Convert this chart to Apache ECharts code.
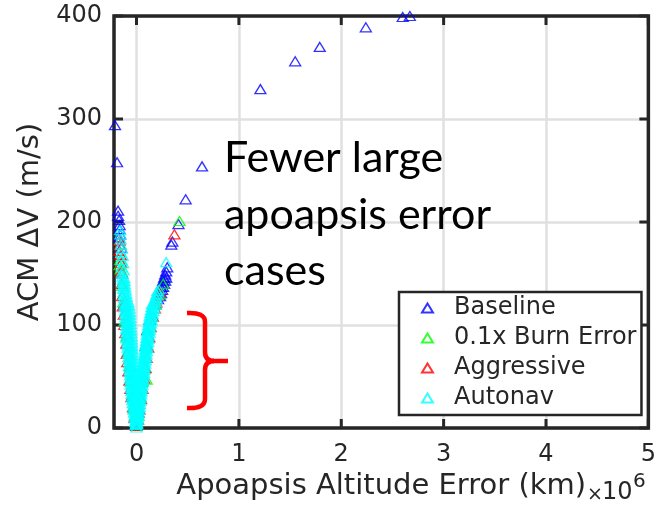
<!DOCTYPE html>
<html>
<head>
<meta charset="utf-8">
<script src="https://cdn.jsdelivr.net/npm/echarts@6/dist/echarts.min.js"></script>
<style>
  html, body { margin: 0; padding: 0; background: #ffffff; }
  #chart { width: 659px; height: 507px; }
</style>
</head>
<body>
<div id="chart"></div>
<script>
// Apoapsis altitude error (x 10^6 km) vs ACM delta-V (m/s) for four navigation strategies.
const seriesNames = ['Baseline', '0.1x Burn Error', 'Aggressive', 'Autonav'];
const seriesColors = ['#0000ff', '#00ff00', '#ff0000', '#00ffff'];

const xTickValues = [0, 1, 2, 3, 4, 5];
const yTickValues = [0, 100, 200, 300, 400];

const baseline = [
  [2.67, 400], [2.60, 399], [2.24, 389], [1.79, 370], [1.55, 356], [1.21, 329],
  [0.64, 254], [0.48, 222], [0.41, 198], [0.35, 181], [0.34, 178],
  [-0.21, 294], [-0.19, 258],
  [-0.18, 211], [-0.18, 206], [-0.17, 202], [-0.165, 197], [-0.165, 193], [-0.16, 188], [-0.17, 185],
  [0.30, 156], [0.29, 152], [0.28, 149], [0.29, 146], [0.27, 146], [0.28, 143], [0.26, 143],
  [0.27, 140], [0.25, 140], [0.26, 137], [0.24, 137], [0.25, 134], [0.23, 134], [0.24, 131],
  [0.22, 131], [0.23, 128],
  [-0.15, 175], [-0.14, 150], [-0.12, 120], [-0.09, 90], [-0.06, 60], [-0.03, 30], [0.0, 3],
  [0.02, 15], [0.05, 45], [0.09, 80], [0.105, 95], [0.13, 105], [0.18, 120], [0.21, 125]
];

const burnError = [
  [0.42, 201], [-0.16, 163], [-0.165, 158], [-0.155, 154],
  [-0.14, 138], [-0.13, 122], [-0.115, 104], [-0.10, 88], [-0.085, 74], [-0.07, 60],
  [-0.055, 45], [-0.04, 32], [-0.025, 18], [0.0, 2],
  [0.02, 12], [0.04, 30], [0.06, 46], [0.10, 47], [0.08, 58], [0.10, 80], [0.11, 95],
  [0.15, 108], [0.19, 120], [0.23, 130], [0.26, 140]
];

const aggressive = [
  [0.37, 188], [0.225, 132],
  [-0.165, 182], [-0.16, 178], [-0.165, 172], [-0.155, 168], [-0.15, 160], [-0.15, 152],
  [-0.145, 140], [-0.14, 128], [-0.135, 118], [-0.125, 110], [-0.12, 100], [-0.11, 92],
  [-0.10, 82], [-0.095, 72], [-0.09, 64], [-0.08, 55], [-0.07, 46], [-0.06, 38],
  [-0.05, 30], [-0.035, 20], [-0.02, 10], [-0.005, 2],
  [0.21, 128], [0.195, 122], [0.18, 116], [0.16, 108], [0.14, 98], [0.125, 88],
  [0.115, 78], [0.10, 68], [0.09, 58], [0.075, 48], [0.06, 38], [0.045, 28],
  [0.03, 18], [0.015, 8]
];

// Autonav cases on the negative-error arm of the V
const autonavLeft = [
  [0.0, 0.5],
  [-0.008, 3], [-0.004, 4], [0.0, 5], [-0.012, 6], [-0.006, 7], [-0.001, 8],
  [-0.016, 9], [-0.009, 10], [-0.002, 11], [-0.02, 12], [-0.012, 13], [-0.004, 14],
  [-0.025, 15], [-0.015, 16], [-0.005, 17], [-0.03, 18], [-0.018, 19], [-0.007, 20],
  [-0.034, 21], [-0.022, 22], [-0.01, 23], [-0.038, 24], [-0.025, 25], [-0.012, 26],
  [-0.042, 27], [-0.028, 28], [-0.014, 29], [-0.045, 30], [-0.031, 31], [-0.016, 32],
  [-0.048, 33], [-0.034, 34], [-0.018, 35], [-0.051, 36], [-0.036, 37], [-0.02, 38],
  [-0.054, 39], [-0.04, 40], [-0.022, 41], [-0.057, 42], [-0.042, 43], [-0.024, 44],
  [-0.06, 45], [-0.045, 46], [-0.026, 47], [-0.062, 48], [-0.047, 49], [-0.028, 50],
  [-0.064, 51], [-0.05, 52], [-0.03, 53], [-0.066, 54], [-0.052, 55], [-0.032, 56],
  [-0.068, 57], [-0.054, 58], [-0.034, 59], [-0.071, 60], [-0.056, 61], [-0.035, 62],
  [-0.073, 63], [-0.058, 64], [-0.036, 65], [-0.076, 66], [-0.06, 67], [-0.037, 68],
  [-0.079, 69], [-0.062, 70], [-0.038, 71], [-0.082, 72], [-0.064, 73], [-0.039, 74],
  [-0.085, 75], [-0.066, 76], [-0.04, 77], [-0.088, 78], [-0.068, 79], [-0.042, 80],
  [-0.09, 81], [-0.07, 82], [-0.044, 83], [-0.092, 84], [-0.072, 85], [-0.046, 86],
  [-0.094, 87], [-0.075, 88], [-0.048, 89], [-0.096, 90], [-0.078, 91], [-0.05, 92],
  [-0.098, 93], [-0.08, 94], [-0.052, 95], [-0.1, 96], [-0.082, 97], [-0.055, 98],
  [-0.102, 99], [-0.084, 100], [-0.057, 101], [-0.104, 102], [-0.086, 103], [-0.059, 104],
  [-0.106, 105], [-0.088, 106], [-0.061, 107], [-0.108, 108], [-0.09, 109], [-0.063, 110],
  [-0.11, 111], [-0.092, 112], [-0.065, 113], [-0.112, 114], [-0.094, 115], [-0.068, 116],
  [-0.114, 117], [-0.097, 118], [-0.072, 119], [-0.117, 120], [-0.1, 121], [-0.078, 122],
  [-0.12, 123], [-0.09, 124.5], [-0.122, 126], [-0.095, 127.5], [-0.125, 129], [-0.1, 130.5],
  [-0.127, 132], [-0.105, 133.5], [-0.13, 135], [-0.11, 136.5], [-0.132, 138], [-0.112, 139.5],
  [-0.134, 141], [-0.115, 142.5], [-0.136, 144], [-0.118, 145.5], [-0.138, 147],
  [-0.14, 150], [-0.125, 153], [-0.143, 156], [-0.13, 160], [-0.146, 163], [-0.135, 167],
  [-0.15, 170], [-0.145, 174], [-0.152, 178], [-0.155, 183], [-0.158, 188], [-0.16, 192]
];

// Autonav cases on the positive-error arm of the V
const autonavRight = [
  [0.004, 3.5], [0.008, 4.5], [0.0, 6.5], [0.006, 7.5], [0.012, 8.5],
  [0.003, 9.5], [0.01, 10.5], [0.016, 11.5], [0.005, 12.5], [0.013, 13.5], [0.02, 14.5],
  [0.007, 15.5], [0.016, 16.5], [0.025, 17.5], [0.009, 18.5], [0.02, 19.5], [0.03, 20.5],
  [0.011, 21.5], [0.024, 22.5], [0.034, 23.5], [0.014, 24.5], [0.028, 25.5], [0.038, 26.5],
  [0.017, 27.5], [0.031, 28.5], [0.042, 29.5], [0.02, 30.5], [0.034, 31.5], [0.046, 32.5],
  [0.024, 33.5], [0.038, 34.5], [0.05, 35.5], [0.028, 36.5], [0.042, 37.5], [0.054, 38.5],
  [0.032, 39.5], [0.046, 40.5], [0.058, 41.5], [0.036, 42.5], [0.05, 43.5], [0.062, 44.5],
  [0.04, 45.5], [0.054, 46.5], [0.066, 47.5], [0.044, 48.5], [0.057, 49.5], [0.07, 50.5],
  [0.048, 51.5], [0.061, 52.5], [0.074, 53.5], [0.052, 54.5], [0.065, 55.5], [0.078, 56.5],
  [0.056, 57.5], [0.069, 58.5], [0.082, 59.5], [0.06, 60.5], [0.072, 61.5], [0.086, 62.5],
  [0.064, 63.5], [0.076, 64.5], [0.09, 65.5], [0.068, 66.5], [0.08, 67.5], [0.094, 68.5],
  [0.072, 69.5], [0.083, 70.5], [0.098, 71.5], [0.076, 72.5], [0.087, 73.5], [0.102, 74.5],
  [0.08, 75.5], [0.091, 76.5], [0.106, 77.5], [0.084, 78.5], [0.095, 79.5], [0.11, 80.5],
  [0.088, 81.5], [0.099, 82.5], [0.114, 83.5], [0.092, 84.5], [0.103, 85.5], [0.118, 86.5],
  [0.096, 87.5], [0.107, 88.5], [0.122, 89.5], [0.1, 90.5], [0.111, 91.5], [0.127, 92.5],
  [0.104, 93.5], [0.116, 94.5], [0.132, 95.5], [0.108, 96.5], [0.12, 97.5], [0.137, 98.5],
  [0.112, 99.5], [0.125, 100.5], [0.142, 101.5], [0.117, 102.5], [0.13, 103.5], [0.147, 104.5],
  [0.122, 105.5], [0.135, 106.5], [0.153, 107.5], [0.128, 108.5], [0.141, 109.5], [0.159, 110.5],
  [0.134, 111.5], [0.147, 112.5], [0.166, 113.5], [0.14, 114.5], [0.154, 115.5], [0.173, 116.5],
  [0.146, 117.5], [0.16, 118.5], [0.18, 119.5], [0.152, 120.5], [0.168, 121.5], [0.188, 122.5],
  [0.176, 124], [0.196, 125.5], [0.185, 127], [0.204, 128.5], [0.194, 130], [0.212, 131.5],
  [0.203, 133], [0.22, 134.5], [0.29, 161]
];

const autonav = autonavLeft.concat(autonavRight);
const seriesData = [baseline, burnError, aggressive, autonav];

const annotationLines = ['Fewer large', 'apoapsis error', 'cases'];

const X_MIN = -0.22, X_MAX = 5, Y_MIN = 0, Y_MAX = 400;
const INK = '#262626';
const GRID_GRAY = '#e0e0e0';
const TICK_FONT = 'DejaVu Sans';
const BRACE_RED = '#ff0000';
const TICK_LEN = 9;

const chart = echarts.init(document.getElementById('chart'), null, { renderer: 'canvas' });

// Curly brace pieces: curves and straight runs
const braceStyle = { fill: 'none', stroke: BRACE_RED, lineWidth: 4.5 };
const braceParts = [
  { type: 'bezierCurve', shape: { x1: 187, y1: 313, cpx1: 205, cpy1: 312, x2: 205, y2: 322 } },
  { type: 'line', shape: { x1: 205, y1: 322, x2: 205, y2: 352 } },
  { type: 'bezierCurve', shape: { x1: 205, y1: 352, cpx1: 205, cpy1: 361, x2: 214, y2: 361 } },
  { type: 'line', shape: { x1: 213, y1: 361, x2: 228, y2: 361 } },
  { type: 'bezierCurve', shape: { x1: 214, y1: 361, cpx1: 205, cpy1: 361, x2: 205, y2: 370 } },
  { type: 'line', shape: { x1: 205, y1: 370, x2: 205, y2: 399 } },
  { type: 'bezierCurve', shape: { x1: 205, y1: 399, cpx1: 205, cpy1: 409, x2: 187, y2: 408 } }
].map((p, i) => Object.assign({ id: 'brace' + i, z: 5, silent: true, style: braceStyle }, p));

const option = {
  animation: false,
  backgroundColor: '#ffffff',
  grid: { left: 114, right: 6, top: 16, bottom: 79, containLabel: false },
  xAxis: {
    type: 'value', min: X_MIN, max: X_MAX,
    splitNumber: 5, minInterval: 1, maxInterval: 1,
    axisLine: { show: false, onZero: false },
    axisTick: { show: false },
    axisLabel: {
      showMinLabel: false, fontFamily: TICK_FONT, fontSize: 24, color: INK, margin: 15,
      formatter: v => (xTickValues.indexOf(v) >= 0 ? String(v) : '')
    },
    splitLine: { show: true, lineStyle: { color: GRID_GRAY, width: 2.5 } },
    name: 'Apoapsis Altitude Error (km)',
    nameLocation: 'middle', nameGap: 42,
    nameTextStyle: { fontFamily: TICK_FONT, fontSize: 29, color: INK }
  },
  yAxis: {
    type: 'value', min: Y_MIN, max: Y_MAX, interval: 100,
    axisLine: { show: false, onZero: false },
    axisTick: { show: false },
    axisLabel: {
      fontFamily: TICK_FONT, fontSize: 24, color: INK, margin: 12,
      formatter: v => (yTickValues.indexOf(v) >= 0 ? String(v) : '')
    },
    splitLine: { show: true, lineStyle: { color: GRID_GRAY, width: 2.5 } },
    name: 'ACM \u0394V (m/s)',
    nameLocation: 'middle', nameGap: 68,
    nameTextStyle: { fontFamily: TICK_FONT, fontSize: 29, color: INK }
  },
  legend: {
    orient: 'vertical', left: 399, top: 292,
    padding: [4, 5, 5, 22],
    itemWidth: 11, itemHeight: 9, itemGap: 6,
    backgroundColor: '#ffffff', borderColor: INK, borderWidth: 2.5, borderRadius: 0,
    textStyle: { fontFamily: TICK_FONT, fontSize: 24, lineHeight: 24, color: INK, padding: [0, 0, 0, 16] },
    data: seriesNames.map(n => ({ name: n, icon: 'triangle' }))
  },
  series: seriesNames.map((name, i) => ({
    name: name,
    type: 'scatter',
    symbol: 'triangle',
    symbolSize: [11, 9],
    itemStyle: { color: 'rgba(0,0,0,0)', borderColor: seriesColors[i], borderWidth: 1.3 },
    data: seriesData[i]
  })),
  graphic: braceParts.concat(
    annotationLines.map((t, i) => ({
      id: 'note' + i, type: 'text', z: 5, silent: true,
      left: 224, top: 137 + i * 56.5,
      style: { text: t, fontFamily: 'Lato', fontSize: 43, lineHeight: 43, fill: '#000000' }
    })),
    [
      { id: 'expTimes', type: 'text', z: 5, left: 587, top: 486,
        style: { text: '\u00d7', fontFamily: TICK_FONT, fontSize: 19, fill: INK } },
      { id: 'expTen', type: 'text', z: 5, left: 602, top: 481,
        style: { text: '10', fontFamily: TICK_FONT, fontSize: 24, fill: INK } },
      { id: 'expSix', type: 'text', z: 5, left: 633, top: 472,
        style: { text: '6', fontFamily: TICK_FONT, fontSize: 20, fill: INK } }
    ]
  )
};

chart.setOption(option);

// Axes box and inward tick marks on all four sides, placed through the axis scales
const finder = { xAxisIndex: 0, yAxisIndex: 0 };
const p0 = chart.convertToPixel(finder, [X_MIN, Y_MIN]);
const p1 = chart.convertToPixel(finder, [X_MAX, Y_MAX]);
const tickLineStyle = { stroke: INK, lineWidth: 3 };
const tickMarks = [];
xTickValues.forEach((v, i) => {
  const x = chart.convertToPixel({ xAxisIndex: 0 }, v);
  tickMarks.push(
    { id: 'xtb' + i, type: 'line', z: 1, silent: true, style: tickLineStyle,
      shape: { x1: x, y1: p0[1], x2: x, y2: p0[1] - TICK_LEN } },
    { id: 'xtt' + i, type: 'line', z: 1, silent: true, style: tickLineStyle,
      shape: { x1: x, y1: p1[1], x2: x, y2: p1[1] + TICK_LEN } }
  );
});
yTickValues.forEach((v, i) => {
  const y = chart.convertToPixel({ yAxisIndex: 0 }, v);
  tickMarks.push(
    { id: 'ytl' + i, type: 'line', z: 1, silent: true, style: tickLineStyle,
      shape: { x1: p0[0], y1: y, x2: p0[0] + TICK_LEN, y2: y } },
    { id: 'ytr' + i, type: 'line', z: 1, silent: true, style: tickLineStyle,
      shape: { x1: p1[0], y1: y, x2: p1[0] - TICK_LEN, y2: y } }
  );
});
chart.setOption({
  graphic: [{
    id: 'frame', type: 'rect', z: 1, silent: true,
    shape: { x: p0[0], y: p1[1], width: p1[0] - p0[0], height: p0[1] - p1[1] },
    style: { fill: 'none', stroke: INK, lineWidth: 3.5 }
  }].concat(tickMarks)
});
</script>
</body>
</html>
